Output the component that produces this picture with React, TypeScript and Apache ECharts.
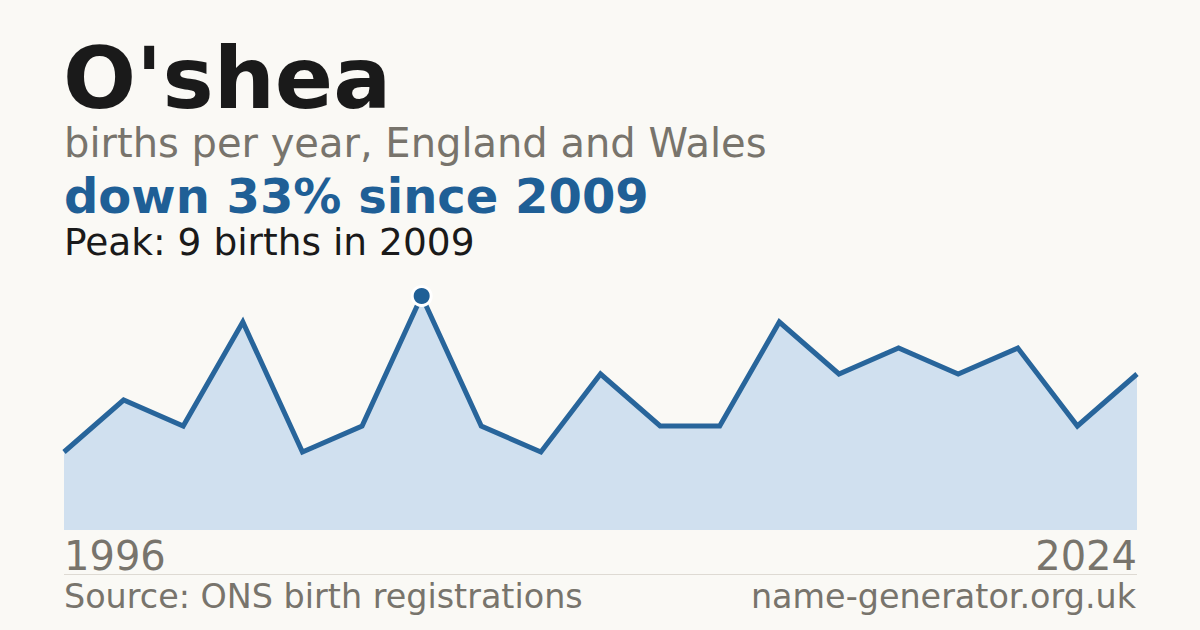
import { useEffect, useRef } from 'react';
import * as echarts from 'echarts';

// years with registrations (some years missing from the series)
const years = [
  '1996', '1997', '1999', '2001', '2003', '2006', '2009', '2010', '2011', '2012',
  '2013', '2014', '2016', '2017', '2018', '2019', '2021', '2022', '2024',
];
const births = [3, 5, 4, 8, 3, 4, 9, 4, 3, 6, 4, 4, 8, 6, 7, 6, 7, 4, 6];
const peakIndex = 6;

const FONT = '"DejaVu Sans", sans-serif';
const BG = '#faf9f5';
const BLUE = '#1f5f96';
const GREY = '#78746c';

export default function App() {
  const chartRef = useRef<HTMLDivElement>(null);

  useEffect(() => {
    if (!chartRef.current) return;
    const chart = echarts.init(chartRef.current, null, { renderer: 'svg' });

    const option = {
      animation: false,
      backgroundColor: BG,
      textStyle: { fontFamily: FONT },
      grid: { left: 64, right: 63, top: 270, bottom: 100 },
      xAxis: {
        type: 'category',
        data: years,
        boundaryGap: false,
        axisLine: { show: false },
        axisTick: { show: false },
        axisLabel: {
          interval: (i: number) => i === 0 || i === years.length - 1,
          alignMinLabel: 'left',
          alignMaxLabel: 'right',
          fontSize: 40,
          color: GREY,
          fontFamily: FONT,
          margin: 6,
        },
      },
      yAxis: {
        type: 'value',
        min: 0,
        max: 10,
        show: false,
        splitLine: { show: false },
      },
      series: [
        {
          type: 'line',
          data: births.map((v, i) =>
            i === peakIndex
              ? {
                  value: v,
                  symbol: 'circle',
                  symbolSize: 19,
                  itemStyle: { color: BLUE, borderColor: '#ffffff', borderWidth: 3 },
                }
              : v
          ),
          showSymbol: true,
          symbol: 'none',
          clip: false,
          lineStyle: { color: '#28659b', width: 5, join: 'miter' },
          areaStyle: { color: '#d0e0ef', opacity: 1 },
          z: 2,
        },
      ],
      graphic: [
        {
          type: 'text',
          left: 63,
          top: 35,
          style: { text: "O'shea", font: `bold 86px ${FONT}`, fill: '#1a1a1a' },
        },
        {
          type: 'text',
          left: 64,
          top: 123,
          style: { text: 'births per year, England and Wales', font: `40px ${FONT}`, fill: GREY },
        },
        {
          type: 'text',
          left: 64,
          top: 172,
          style: { text: 'down 33% since 2009', font: `bold 48px ${FONT}`, fill: BLUE },
        },
        {
          type: 'text',
          left: 64,
          top: 223,
          style: { text: 'Peak: 9 births in 2009', font: `37.5px ${FONT}`, fill: '#1a1a1a' },
        },
        {
          type: 'line',
          shape: { x1: 64, y1: 574.5, x2: 1137, y2: 574.5 },
          style: { stroke: '#dedad3', lineWidth: 1 },
        },
        {
          type: 'text',
          left: 64,
          top: 580,
          style: { text: 'Source: ONS birth registrations', font: `33.4px ${FONT}`, fill: GREY },
        },
        {
          type: 'text',
          right: 64,
          top: 580,
          style: { text: 'name-generator.org.uk', font: `33.4px ${FONT}`, fill: GREY },
        },
      ],
    };

    chart.setOption(option as any);
    return () => chart.dispose();
  }, []);

  return (
    <div
      ref={chartRef}
      style={{ position: 'fixed', left: 0, top: 0, width: 1200, height: 630, background: BG }}
    />
  );
}
